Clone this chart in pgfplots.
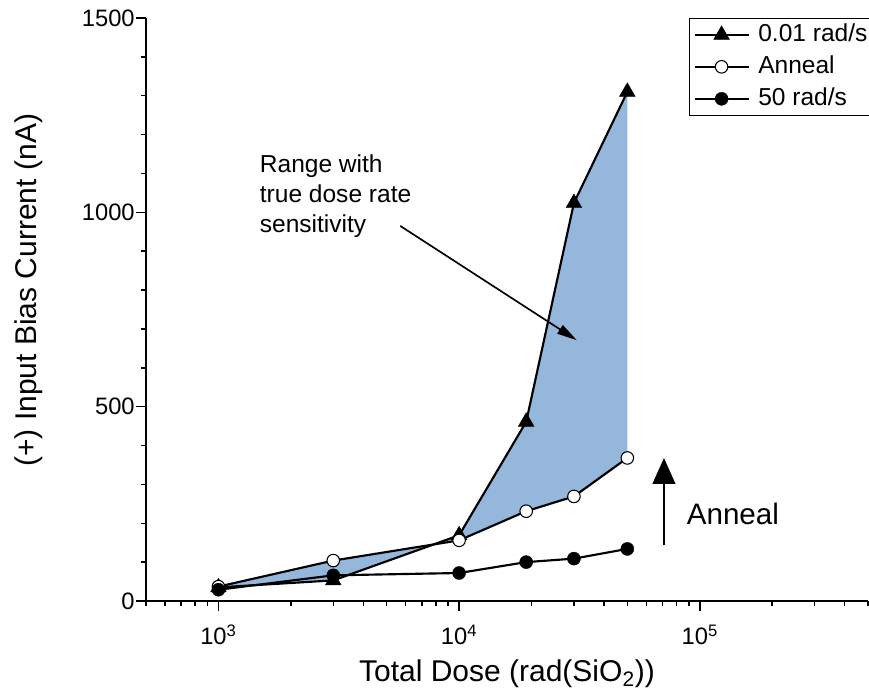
\documentclass[border=0pt]{standalone}
\usepackage{fontspec}
\setmainfont{Liberation Sans}
\usepackage{pgfplots}
\pgfplotsset{compat=1.18}
\usepgfplotslibrary{fillbetween}
\usetikzlibrary{arrows.meta}
\definecolor{fillblue}{RGB}{148,183,219}

\begin{document}
\begin{tikzpicture}
\begin{axis}[
  at={(0,0)}, anchor=south west,
  scale only axis, width=541.5pt, height=437.25pt,
  xmode=log, xmin=500, xmax=500000, ymin=0, ymax=1500,
  axis lines=left, axis line style={-, line width=1.2pt},
  tick align=outside, major tick length=7.5pt, minor tick length=4pt,
  every tick/.style={black, line width=1.1pt},
  xtick={1000,10000,100000},
  xticklabels={10\textsuperscript{3},10\textsuperscript{4},10\textsuperscript{5}},
  minor xtick={500,600,700,800,900,2000,3000,4000,5000,6000,7000,8000,9000,20000,30000,40000,50000,60000,70000,80000,90000,200000,300000,400000,500000},
  ytick={0,500,1000,1500}, yticklabels={0,500,1000,1500},
  minor ytick={100,200,300,400,600,700,800,900,1100,1200,1300,1400},
  tick label style={font=\fontsize{17.8}{21}\selectfont},
  xticklabel style={yshift=-7pt},
  yticklabel style={xshift=2.5pt},
  label style={font=\fontsize{22.5}{27}\selectfont},
  xlabel={Total Dose (rad(SiO\textsubscript{2}))},
  ylabel={(+) Input Bias Current (nA)},
  xlabel style={at={(axis description cs:0.5,-0.1375)}, anchor=base},
  ylabel style={at={(axis description cs:-0.162,0.533)}, anchor=center},
  legend style={at={(axis description cs:0.7521,1)}, anchor=north west, draw=black, line width=0.75pt,
    font=\fontsize{18.4}{22}\selectfont, inner xsep=3pt, inner ysep=3.5pt,
    row sep=6.5pt, column sep=6.5pt,
    nodes={inner sep=0pt, text height=13.5pt, text depth=4pt}},
  legend cell align=left,
  legend image code/.code={\draw[line width=1.6pt, mark repeat=2,mark phase=2] plot coordinates {(0pt,0pt)(20.25pt,0pt)(40.5pt,0pt)};},
]
\addplot[name path=A, black, line width=1.6pt, mark=triangle*, mark size=6.8pt, mark options={solid, fill=black, line width=0.3pt}]
  coordinates {(1000,35) (3000,53) (10000,169) (19000,461) (30000,1024) (50000,1310)};
\addlegendentry{0.01 rad/s\hspace*{14pt}}
\addplot[name path=B, black, line width=1.6pt, mark=*, mark size=4.7pt, mark options={solid, fill=white, line width=0.8pt}]
  coordinates {(1000,37) (3000,104) (10000,156) (19000,231) (30000,269) (50000,368)};
\addlegendentry{Anneal}
\addplot[black, line width=1.6pt, mark=*, mark size=4.9pt, mark options={solid, fill=black, line width=0.3pt}]
  coordinates {(1000,29) (3000,66) (10000,72) (19000,100) (30000,109) (50000,134)};
\addlegendentry{50 rad/s}
\addplot[fillblue, draw=none, forget plot] fill between[of=A and B];

\draw[-{Triangle[width=7.5pt,length=15pt]}, line width=1.25pt] (axis cs:5695,965) -- (axis cs:30830,671);
\draw[-{Triangle[width=17pt,length=19.5pt]}, line width=1.6pt] (axis cs:71000,143) -- (axis cs:71000,368);
\node[anchor=west, inner sep=0pt, font=\fontsize{22.2}{26}\selectfont] at (axis cs:88100,225) {Anneal};
\node[anchor=north west, align=left, inner sep=0pt, font=\fontsize{18.4}{22.5}\selectfont] at (axis cs:1483,1148) {Range with\\true dose rate\\sensitivity};
\end{axis}
\pgfresetboundingbox
\path[use as bounding box] (-109.5pt,-72.75pt) rectangle (542.25pt,450.75pt);
\end{tikzpicture}
\end{document}
